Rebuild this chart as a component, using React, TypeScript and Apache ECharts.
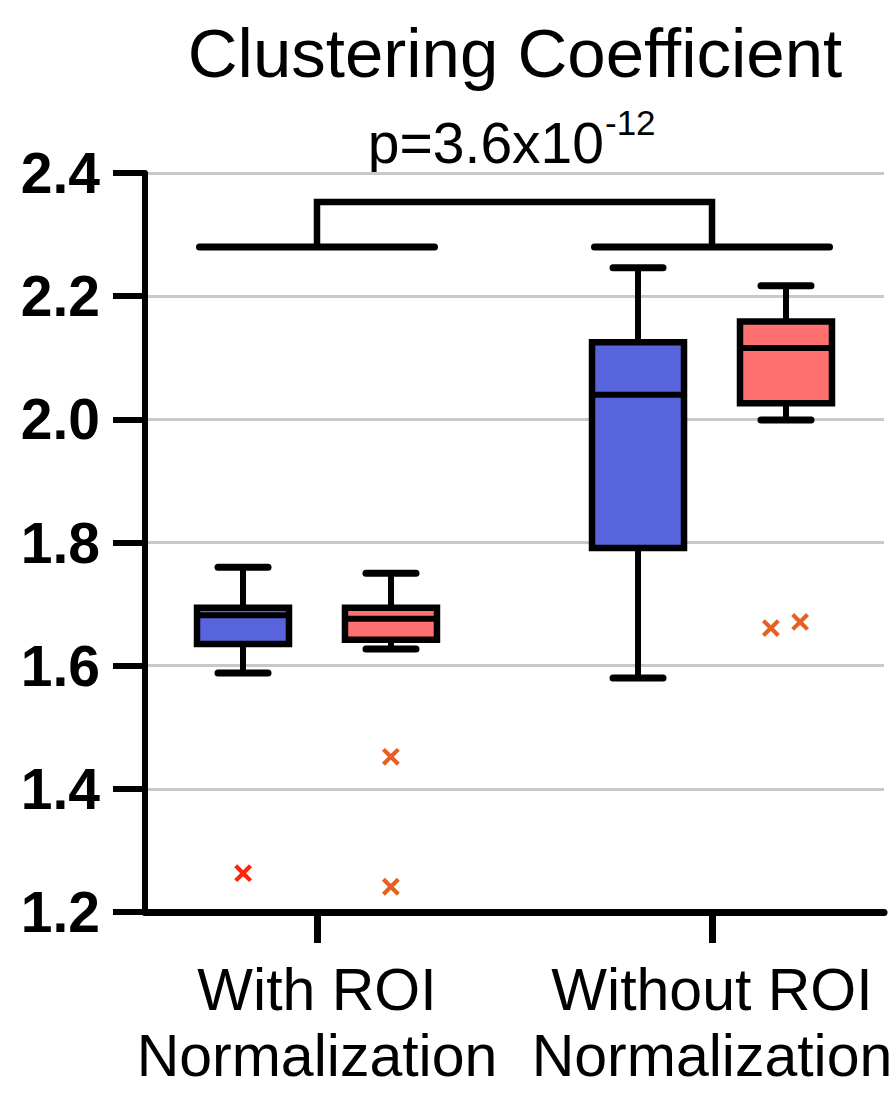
import React, { useEffect, useRef } from 'react';
import * as echarts from 'echarts';

const categories = ['With ROI\nNormalization', 'Without ROI\nNormalization'];
const groupOffset = 0.1873;
// [low, q1, median, q3, high]
const blueStats = [
  [1.588, 1.635, 1.682, 1.694, 1.760],
  [1.580, 1.791, 2.040, 2.125, 2.246],
];
const redStats = [
  [1.627, 1.642, 1.676, 1.694, 1.750],
  [1.999, 2.026, 2.116, 2.159, 2.217],
];
// [x position, value]
const blueOutliers = [[-0.187, 1.263]];
const redOutliers = [
  [0.187, 1.452],
  [0.187, 1.241],
  [1.149, 1.661],
  [1.223, 1.671],
];
const bracketLevels = [2.28, 2.353];
const bracketHalfWidth = 0.2975;
const titleText = 'Clustering Coefficient';
const pMain = 'p=3.6x10';
const pExp = '-12';

const FONT = '"Liberation Sans", Arial, Helvetica, sans-serif';
const BLUE = '#5864dc';
const RED = '#ff7070';
const X_PATH = 'path://M4,0H6V4H10V6H6V10H4V6H0V4H4Z';

function makeBoxRender(fill: string) {
  return (params: any, api: any) => {
    const x = api.value(0);
    const c = (v: number) => api.coord([x, v]);
    const [cx, yLow] = c(api.value(1));
    const yQ1 = c(api.value(2))[1];
    const yMed = c(api.value(3))[1];
    const yQ3 = c(api.value(4))[1];
    const yHigh = c(api.value(5))[1];
    const hw = 46;
    const cw = 25;
    const k = '#000';
    return {
      type: 'group',
      children: [
        { type: 'line', shape: { x1: cx, y1: yHigh, x2: cx, y2: yQ3 }, style: { stroke: k, lineWidth: 6 } },
        { type: 'line', shape: { x1: cx, y1: yQ1, x2: cx, y2: yLow }, style: { stroke: k, lineWidth: 6 } },
        { type: 'line', shape: { x1: cx - cw, y1: yHigh, x2: cx + cw, y2: yHigh }, style: { stroke: k, lineWidth: 7, lineCap: 'round' } },
        { type: 'line', shape: { x1: cx - cw, y1: yLow, x2: cx + cw, y2: yLow }, style: { stroke: k, lineWidth: 7, lineCap: 'round' } },
        { type: 'rect', shape: { x: cx - hw, y: yQ3, width: 2 * hw, height: yQ1 - yQ3 }, style: { fill, stroke: k, lineWidth: 6.5 } },
        { type: 'line', shape: { x1: cx - hw, y1: yMed, x2: cx + hw, y2: yMed }, style: { stroke: k, lineWidth: 6 } },
      ],
    };
  };
}

function renderBracket(params: any, api: any) {
  const x0 = api.value(0);
  const x1 = api.value(1);
  const yl = api.value(2);
  const yh = api.value(3);
  const hw = api.value(4);
  const p = (x: number, y: number) => api.coord([x, y]);
  const k = '#000';
  const a1 = p(x0 - hw, yl), a2 = p(x0 + hw, yl);
  const b1 = p(x1 - hw, yl), b2 = p(x1 + hw, yl);
  const l = p(x0, yl), lt = p(x0, yh), rt = p(x1, yh), r = p(x1, yl);
  return {
    type: 'group',
    children: [
      { type: 'line', shape: { x1: a1[0], y1: a1[1], x2: a2[0], y2: a2[1] }, style: { stroke: k, lineWidth: 7, lineCap: 'round' } },
      { type: 'line', shape: { x1: b1[0], y1: b1[1], x2: b2[0], y2: b2[1] }, style: { stroke: k, lineWidth: 7, lineCap: 'round' } },
      { type: 'polyline', shape: { points: [l, lt, rt, r] }, style: { stroke: k, lineWidth: 6.5, fill: null, lineJoin: 'miter' } },
    ],
  };
}

export default function App() {
  const ref = useRef<HTMLDivElement>(null);
  useEffect(() => {
    if (!ref.current) return;
    const chart = echarts.init(ref.current, null, { renderer: 'svg' });
    const blueData = blueStats.map((s, i) => [i - groupOffset, ...s]);
    const redData = redStats.map((s, i) => [i + groupOffset, ...s]);
    chart.setOption({
      animation: false,
      backgroundColor: '#fff',
      grid: { left: 145, right: 11, top: 173, bottom: 182, outerBoundsMode: 'none', containLabel: false },
      xAxis: {
        type: 'value',
        min: -0.4354,
        max: 1.4354,
        splitLine: { show: false },
        axisLine: { show: true, onZero: false, lineStyle: { color: '#000', width: 7 } },
        axisTick: { show: true, customValues: [0, 1], length: 31, lineStyle: { color: '#000', width: 7 } },
        axisLabel: {
          show: true,
          customValues: [0, 1],
          formatter: (v: number) => categories[Math.round(v)] ?? '',
          fontFamily: FONT,
          fontSize: 59,
          lineHeight: 66,
          color: '#000',
          margin: 45,
        },
      },
      yAxis: {
        type: 'value',
        min: 1.2,
        max: 2.4,
        interval: 0.2,
        axisLine: { show: true, onZero: false, lineStyle: { color: '#000', width: 6 } },
        axisTick: { show: true, length: 32, lineStyle: { color: '#000', width: 6 } },
        axisLabel: {
          formatter: (v: number) => v.toFixed(1),
          fontFamily: FONT,
          fontSize: 57,
          fontWeight: 'bold',
          color: '#000',
          margin: 45,
        },
        splitLine: { show: true, lineStyle: { color: '#c8c8c8', width: 3 } },
      },
      graphic: [
        { type: 'text', x: 515, y: 53, style: { text: titleText, fontFamily: FONT, fontSize: 69, fill: '#000', align: 'center', verticalAlign: 'middle' } },
        { type: 'text', x: 604, y: 143, style: { text: pMain, fontFamily: FONT, fontSize: 57, fill: '#000', align: 'right', verticalAlign: 'middle' } },
        { type: 'text', x: 605, y: 122, style: { text: pExp, fontFamily: FONT, fontSize: 35, fill: '#000', align: 'left', verticalAlign: 'middle' } },
      ],
      series: [
        {
          name: 'Bracket',
          type: 'custom',
          renderItem: renderBracket,
          data: [[0, 1, bracketLevels[0], bracketLevels[1], bracketHalfWidth]],
          encode: { x: [0, 1], y: [2, 3] },
          clip: false,
          z: 3,
        },
        {
          name: 'Blue',
          type: 'custom',
          renderItem: makeBoxRender(BLUE),
          data: blueData,
          encode: { x: 0, y: [1, 2, 3, 4, 5] },
          z: 3,
        },
        {
          name: 'Red',
          type: 'custom',
          renderItem: makeBoxRender(RED),
          data: redData,
          encode: { x: 0, y: [1, 2, 3, 4, 5] },
          z: 3,
        },
        {
          name: 'Blue outliers',
          type: 'scatter',
          symbol: X_PATH,
          symbolSize: 21,
          symbolRotate: 45,
          itemStyle: { color: '#ff230a', opacity: 1 },
          data: blueOutliers,
          z: 4,
        },
        {
          name: 'Red outliers',
          type: 'scatter',
          symbol: X_PATH,
          symbolSize: 21,
          symbolRotate: 45,
          itemStyle: { color: '#e65f23', opacity: 1 },
          data: redOutliers,
          z: 4,
        },
      ],
    });
    return () => chart.dispose();
  }, []);
  return <div ref={ref} style={{ position: 'absolute', left: 0, top: 0, width: 895, height: 1094 }} />;
}
